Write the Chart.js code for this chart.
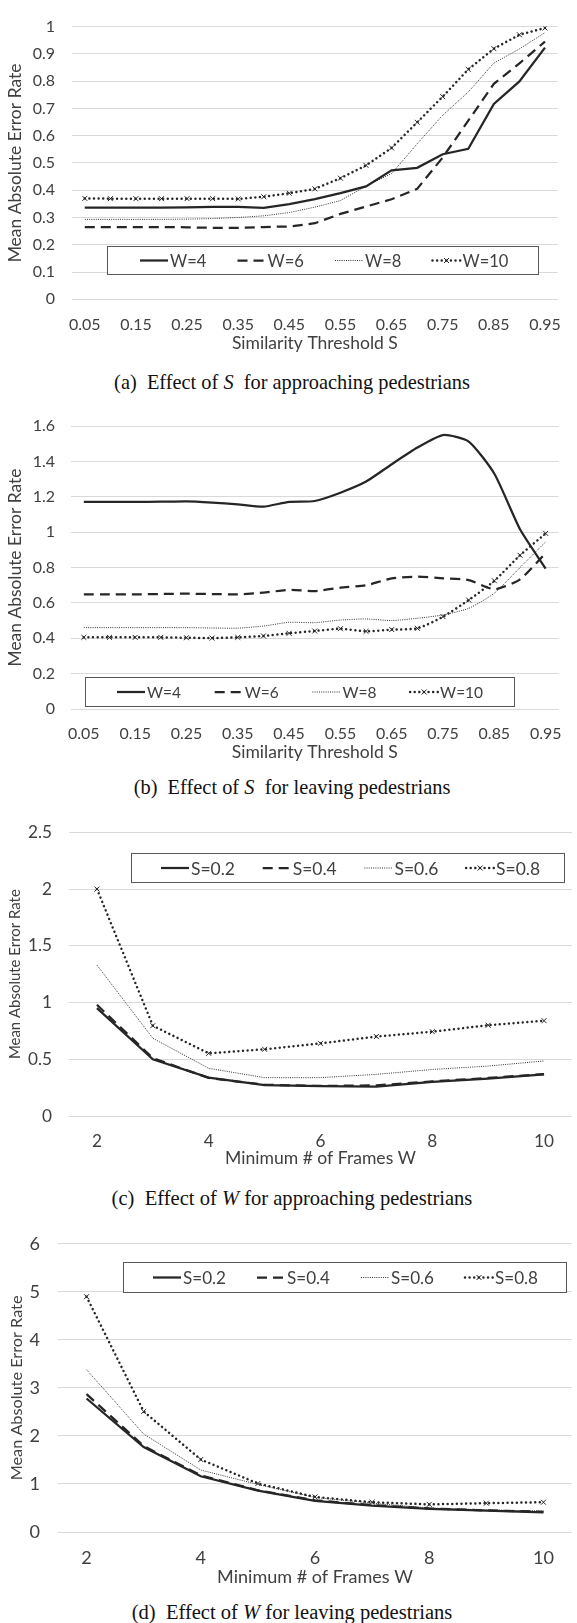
<!DOCTYPE html>
<html>
<head>
<meta charset="utf-8">
<script src="https://cdn.jsdelivr.net/npm/chart.js@4.4.0/dist/chart.umd.min.js"></script>
<style>
  html, body { margin: 0; padding: 0; background: #fff; }
  #page { position: relative; width: 577px; height: 1623px; overflow: hidden; }
  canvas { position: absolute; left: 0; }
  .cap {
    position: absolute; left: 0; width: 584px; text-align: center;
    font-family: "Liberation Serif", "Times New Roman", serif;
    font-size: 21px; line-height: 24px; color: #111; white-space: pre;
  }
</style>
</head>
<body>
<div id="page">
  <canvas id="chartA"></canvas>
  <div class="cap" id="capA" style="top:370px">(a)  Effect of <i>S</i>  for approaching pedestrians</div>
  <canvas id="chartB"></canvas>
  <div class="cap" id="capB" style="top:775px">(b)  Effect of <i>S</i>  for leaving pedestrians</div>
  <canvas id="chartC"></canvas>
  <div class="cap" id="capC" style="top:1186px">(c)  Effect of <i>W</i> for approaching pedestrians</div>
  <canvas id="chartD"></canvas>
  <div class="cap" id="capD" style="top:1600px">(d)  Effect of <i>W</i> for leaving pedestrians</div>
</div>
<script>
// x categories
const sLabels = ['0.05','0.10','0.15','0.20','0.25','0.30','0.35','0.40','0.45','0.50',
                 '0.55','0.60','0.65','0.70','0.75','0.80','0.85','0.90','0.95'];
const wLabels = ['2','3','4','5','6','7','8','9','10'];
const wNames = ['W=4', 'W=6', 'W=8', 'W=10'];
const sNames = ['S=0.2', 'S=0.4', 'S=0.6', 'S=0.8'];

// (a) effect of S, approaching
const aW4  = [0.336,0.336,0.336,0.336,0.337,0.339,0.339,0.335,0.349,0.367,0.389,0.414,0.473,0.482,0.532,0.552,0.716,0.799,0.923];
const aW6  = [0.265,0.265,0.265,0.265,0.264,0.262,0.262,0.265,0.267,0.279,0.313,0.340,0.367,0.405,0.520,0.655,0.790,0.865,0.945];
const aW8  = [0.293,0.293,0.293,0.293,0.294,0.296,0.300,0.306,0.318,0.338,0.362,0.415,0.461,0.570,0.675,0.760,0.866,0.918,0.978];
const aW10 = [0.370,0.369,0.369,0.369,0.369,0.369,0.368,0.376,0.389,0.405,0.444,0.491,0.555,0.649,0.743,0.843,0.919,0.970,0.995];

// (b) effect of S, leaving
const bW4  = [1.171,1.171,1.171,1.172,1.174,1.167,1.157,1.144,1.171,1.176,1.223,1.286,1.384,1.478,1.549,1.512,1.330,1.016,0.793];
const bW6  = [0.648,0.648,0.648,0.650,0.652,0.650,0.648,0.658,0.673,0.667,0.686,0.699,0.739,0.748,0.739,0.729,0.677,0.733,0.882];
const bW8  = [0.460,0.460,0.460,0.460,0.460,0.458,0.457,0.469,0.490,0.488,0.503,0.509,0.500,0.513,0.532,0.569,0.655,0.800,0.945];
const bW10 = [0.405,0.405,0.405,0.405,0.403,0.401,0.405,0.413,0.428,0.441,0.454,0.439,0.449,0.456,0.522,0.616,0.725,0.869,0.993];

// (c) effect of W, approaching
const cS2 = [0.95,0.500,0.338,0.273,0.264,0.258,0.300,0.330,0.367];
const cS4 = [0.98,0.510,0.335,0.275,0.265,0.270,0.305,0.335,0.370];
const cS6 = [1.33,0.685,0.420,0.338,0.338,0.367,0.410,0.440,0.485];
const cS8 = [2.00,0.796,0.552,0.588,0.640,0.700,0.743,0.800,0.840];

// (d) effect of W, leaving
const dS2 = [2.78,1.77,1.16,0.86,0.65,0.55,0.480,0.445,0.41];
const dS4 = [2.87,1.79,1.18,0.87,0.66,0.56,0.490,0.450,0.42];
const dS6 = [3.38,2.04,1.29,0.99,0.72,0.60,0.500,0.460,0.44];
const dS8 = [4.90,2.51,1.51,1.01,0.73,0.62,0.575,0.600,0.62];

const INK = '#262626';
const TXT = '#404040';
const GRID = '#d9d9d9';
const W = 577;
const YTITLE = 'Mean Absolute Error Rate';

const measureCtx = document.createElement('canvas').getContext('2d');

// font size that makes `text` about `target` px wide
function fitSize(text, family, target){
  measureCtx.font = '100px ' + family;
  return 100 * target / measureCtx.measureText(text).width;
}

function seriesStyle(i){
  if (i === 0) return { borderColor: INK, borderWidth: 2.25, borderDash: [], pointRadius: 0 };
  if (i === 1) return { borderColor: INK, borderWidth: 2.25, borderDash: [10, 6], pointRadius: 0 };
  if (i === 2) return { borderColor: '#333', borderWidth: 1, borderDash: [1, 1.2], pointRadius: 0 };
  return { borderColor: INK, borderWidth: 2.5, borderDash: [0.01, 4.6], borderCapStyle: 'round',
           pointStyle: 'crossRot', pointRadius: 3.5, pointBorderWidth: 1,
           pointBorderColor: INK, pointBackgroundColor: INK };
}

// legend drawn as a white box inside the plot, like the Excel original
const boxLegend = {
  id: 'boxLegend',
  beforeDatasetsDraw(chart, args, o){
    if (!o || !o.box) return;
    const ctx = chart.ctx;
    const [bx, by, bw, bh] = o.box;
    ctx.save();
    ctx.fillStyle = '#fff';
    ctx.fillRect(bx, by, bw, bh);
    ctx.strokeStyle = '#595959';
    ctx.lineWidth = 1;
    ctx.strokeRect(Math.round(bx) + 0.5, Math.round(by) + 0.5, Math.round(bw) - 1, Math.round(bh) - 1);
    const cy = by + bh / 2;
    chart.data.datasets.forEach((ds, i) => {
      const sx = bx + o.start + i * o.pitch;
      ctx.save();
      ctx.strokeStyle = ds.borderColor;
      ctx.lineWidth = ds.borderWidth;
      ctx.setLineDash(ds.borderDash || []);
      ctx.lineCap = ds.borderCapStyle || 'butt';
      ctx.beginPath(); ctx.moveTo(sx, cy); ctx.lineTo(sx + 28, cy); ctx.stroke();
      if (ds.pointStyle === 'crossRot'){
        const r = 2.5, mx = sx + 14;
        ctx.setLineDash([]); ctx.lineWidth = 1; ctx.lineCap = 'butt';
        ctx.beginPath();
        ctx.moveTo(mx - r, cy - r); ctx.lineTo(mx + r, cy + r);
        ctx.moveTo(mx - r, cy + r); ctx.lineTo(mx + r, cy - r);
        ctx.stroke();
      }
      ctx.restore();
      ctx.font = o.fontSize + 'px Lato';
      ctx.textBaseline = 'middle';
      ctx.fillStyle = TXT;
      ctx.fillText(ds.label, sx + 30, cy + 1);
    });
    ctx.restore();
  }
};

function makeChart(id, cfg){
  const T = cfg.top, H = cfg.height;
  const canvas = document.getElementById(id);
  canvas.width = W; canvas.height = H;
  canvas.style.top = T + 'px';

  const tickSize = fitSize(cfg.fit.tickText, 'Lato', cfg.fit.tickW);
  const yTitleSize = fitSize(YTITLE, 'Lato', cfg.fit.yTitleW);
  const xTitleSize = fitSize(cfg.xTitle, 'Lato', cfg.fit.xTitleW);
  const legendSize = fitSize(cfg.names[cfg.names.length - 1], 'Lato', cfg.fit.legendW);
  const box = cfg.legend.box;

  return new Chart(canvas, {
    type: 'line',
    data: {
      labels: cfg.labels,
      datasets: cfg.series.map((s, i) => Object.assign(
        { label: cfg.names[i], data: s, fill: false, tension: cfg.tension || 0 }, seriesStyle(i)))
    },
    options: {
      responsive: false,
      animation: false,
      devicePixelRatio: 1,
      layout: { padding: { top: cfg.plotTop - T, right: W - cfg.plotRight, left: 0, bottom: 0 } },
      plugins: {
        legend: { display: false },
        tooltip: { enabled: false },
        boxLegend: { box: [box[0], box[1] - T, box[2], box[3]], start: cfg.legend.start,
                     pitch: cfg.legend.pitch, fontSize: legendSize }
      },
      scales: {
        x: {
          type: 'category',
          offset: true,
          grid: { display: false, drawTicks: false },
          border: { display: false },
          ticks: {
            autoSkip: false, maxRotation: 0, minRotation: 0,
            padding: (cfg.tickY - cfg.plotBottom) - tickSize * 0.6,
            font: { family: 'Lato', size: tickSize }, color: TXT,
            callback: function(v, i){ return i % 2 === 0 ? this.getLabelForValue(v) : ''; }
          },
          title: { display: true, text: cfg.xTitle, font: { family: 'Lato', size: xTitleSize }, color: TXT,
                   padding: { top: 0, bottom: (T + H) - cfg.titleY - xTitleSize * 0.6 } },
          afterFit: s => { s.height = T + H - cfg.plotBottom; }
        },
        y: {
          min: 0, max: cfg.yMax,
          ticks: { stepSize: cfg.yStep, padding: cfg.yPad, font: { family: 'Lato', size: tickSize }, color: TXT,
                   callback: v => String(+v.toFixed(2)) },
          grid: { color: GRID, drawTicks: false, lineWidth: 1 },
          border: { display: false },
          title: { display: true, text: YTITLE, font: { family: 'Lato', size: yTitleSize }, color: TXT,
                   padding: { top: Math.max(0, cfg.yTitleX - yTitleSize * 0.6), bottom: 0 } },
          afterFit: s => { s.width = cfg.plotLeft; }
        }
      }
    },
    plugins: [boxLegend]
  });
}

function fitCaption(id, target){
  const el = document.getElementById(id);
  measureCtx.font = '100px "Liberation Serif"';
  const size = 100 * target / measureCtx.measureText(el.textContent).width;
  el.style.fontSize = size.toFixed(2) + 'px';
}

function build(){
  makeChart('chartA', {
    top: 0, height: 360, plotTop: 15.3, plotBottom: 299.3, plotLeft: 72, plotRight: 572,
    yMax: 1, yStep: 0.1, yPad: 17, tickY: 325, titleY: 343, yTitleX: 15.5,
    fit: { tickText: '0.05', tickW: 31.5, yTitleW: 199, xTitleW: 166, legendW: 46 },
    labels: sLabels, names: wNames, series: [aW4, aW6, aW8, aW10],
    xTitle: 'Similarity Threshold S',
    legend: { box: [107, 246, 432, 29], start: 33, pitch: 97.5 }
  });

  makeChart('chartB', {
    top: 400, height: 370, plotTop: 426, plotBottom: 709, plotLeft: 71, plotRight: 572,
    yMax: 1.6, yStep: 0.2, yPad: 16, tickY: 734, titleY: 752, yTitleX: 15.5, tension: 0.2,
    fit: { tickText: '0.05', tickW: 31.5, yTitleW: 198, xTitleW: 166, legendW: 43 },
    labels: sLabels, names: wNames, series: [bW4, bW6, bW8, bW10],
    xTitle: 'Similarity Threshold S',
    legend: { box: [85, 677, 430, 30], start: 32, pitch: 97.7 }
  });

  makeChart('chartC', {
    top: 805, height: 370, plotTop: 832, plotBottom: 1116, plotLeft: 69, plotRight: 573,
    yMax: 2.5, yStep: 0.5, yPad: 17, tickY: 1141, titleY: 1158, yTitleX: 15,
    fit: { tickText: '2.5', tickW: 24, yTitleW: 170, xTitleW: 191, legendW: 44 },
    labels: wLabels, names: sNames, series: [cS2, cS4, cS6, cS8],
    xTitle: 'Minimum # of Frames W',
    legend: { box: [131, 853, 434, 30], start: 30, pitch: 101.7 }
  });

  makeChart('chartD', {
    top: 1215, height: 380, plotTop: 1240, plotBottom: 1532, plotLeft: 58, plotRight: 576,
    yMax: 6, yStep: 1, yPad: 18, tickY: 1558, titleY: 1577, yTitleX: 17,
    fit: { tickText: '10', tickW: 21, yTitleW: 185, xTitleW: 196, legendW: 43 },
    labels: wLabels, names: sNames, series: [dS2, dS4, dS6, dS8],
    xTitle: 'Minimum # of Frames W',
    legend: { box: [123, 1262, 444, 31], start: 30, pitch: 104 }
  });

  fitCaption('capA', 357);
  fitCaption('capB', 318);
  fitCaption('capC', 363);
  fitCaption('capD', 323);
}

if (document.fonts && document.fonts.load) {
  Promise.all([document.fonts.load('16px Lato'), document.fonts.load('16px "Liberation Serif"')])
    .then(build, build);
} else {
  build();
}
</script>
</body>
</html>
